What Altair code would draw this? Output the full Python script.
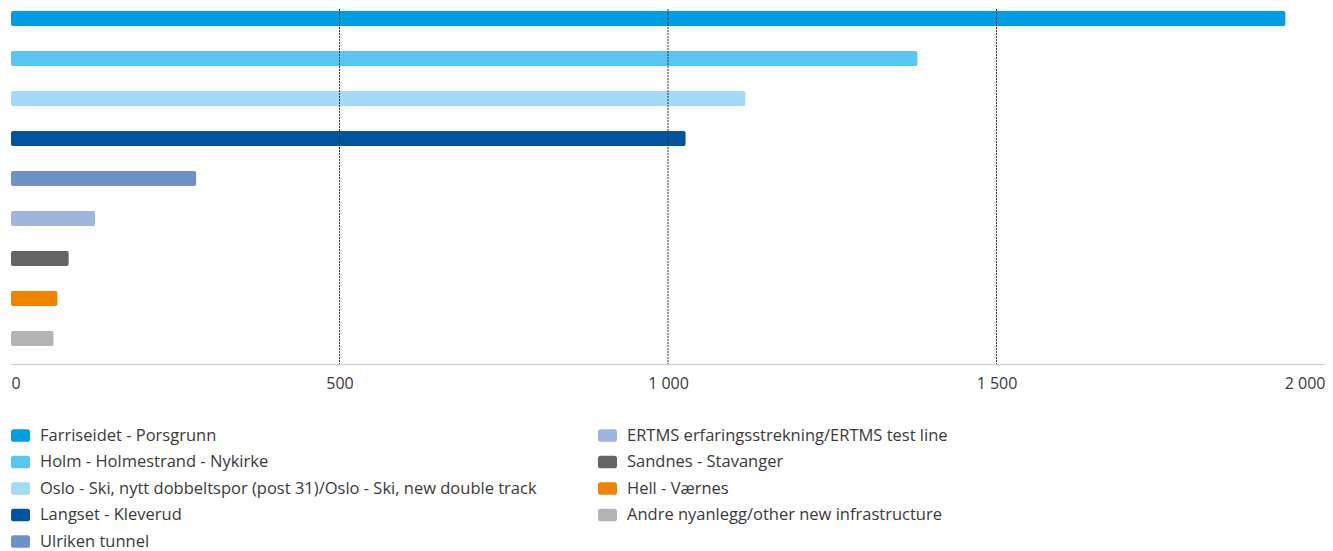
import altair as alt
import pandas as pd

categories = [
    "Farriseidet - Porsgrunn",
    "Holm - Holmestrand - Nykirke",
    "Oslo - Ski, nytt dobbeltspor (post 31)/Oslo - Ski, new double track",
    "Langset - Kleverud",
    "Ulriken tunnel",
    "ERTMS erfaringsstrekning/ERTMS test line",
    "Sandnes - Stavanger",
    "Hell - Værnes",
    "Andre nyanlegg/other new infrastructure",
]
values = [1940, 1380, 1118, 1027, 282, 128, 88, 71, 65]
colors = ["#009FE3", "#5BC5F2", "#A2DAF7", "#00559E", "#6E91C8",
          "#A0B4DE", "#646464", "#F08300", "#B4B4B4"]
tick_values = [0, 500, 1000, 1500, 2000]
grid_values = [500, 1000, 1500]

df = pd.DataFrame({"cat": categories, "value": values})
grid_df = pd.DataFrame({"v": grid_values})

FONT = "Open Sans"
TXT = "#3a3a3a"

# rounded rectangle legend symbol, ~19 x 12.7 px
sym = ("M-0.74,-0.67 h1.48 a0.26,0.26 0 0 1 0.26,0.26 v0.82 "
       "a0.26,0.26 0 0 1 -0.26,0.26 h-1.48 a0.26,0.26 0 0 1 -0.26,-0.26 "
       "v-0.82 a0.26,0.26 0 0 1 0.26,-0.26 Z")

x_enc = alt.X(
    "value:Q",
    scale=alt.Scale(domain=[0, 2000], nice=False),
    axis=alt.Axis(
        values=tick_values, title=None, grid=False, ticks=False, tickSize=0,
        labelFlush=True, labelPadding=11, labelFont=FONT, labelFontSize=16,
        labelColor=TXT, domainColor="#999999", domainDash=[1, 1],
        labelExpr="replace(format(datum.value, ','), ',', ' ')",
    ),
)

bars = alt.Chart(df).mark_bar(cornerRadius=2).encode(
    x=x_enc,
    y=alt.Y("cat:N", sort=categories, axis=None,
            scale=alt.Scale(paddingInner=0.625, paddingOuter=0.25, align=0.1)),
    color=alt.Color(
        "cat:N",
        scale=alt.Scale(domain=categories, range=colors),
        legend=alt.Legend(
            title=None, orient="none", legendX=0, legendY=417, columns=2,
            columnPadding=60, rowPadding=8.5, symbolType=sym, symbolSize=361,
            symbolStrokeWidth=0, labelFont=FONT, labelFontSize=16.5,
            labelColor=TXT, labelOffset=10, labelLimit=800,
        ),
    ),
)

grid = alt.Chart(grid_df).mark_rule(color="#333333", strokeDash=[2, 1], strokeWidth=1).encode(
    x=alt.X("v:Q")
)

chart = alt.layer(bars, grid).properties(
    width=1314, height=355,
    padding={"left": 3, "top": 0, "right": 0, "bottom": 0},
).configure_view(stroke=None)

chart.save("out.html", embed_options={"renderer": "svg", "actions": False})
